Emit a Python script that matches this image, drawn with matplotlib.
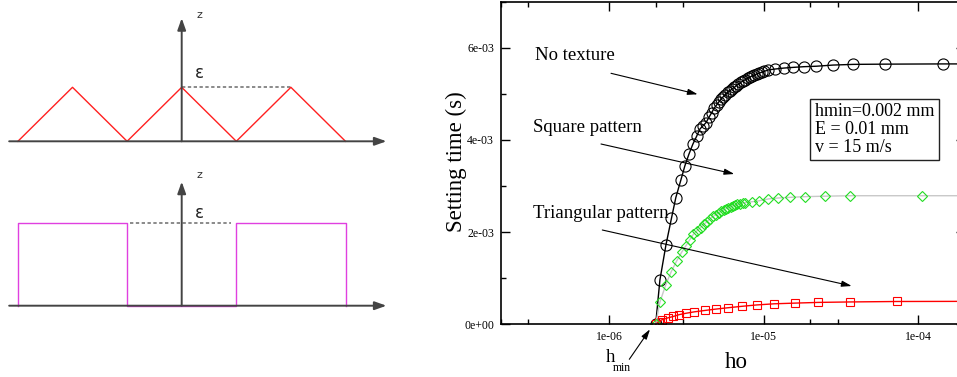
import numpy as np
import matplotlib
matplotlib.use('Agg')
from matplotlib import pyplot as plt
from matplotlib import ticker

W, H = 957, 377

# surface profiles, x in half periods, z in units of epsilon
tri_x = [-3, -2, -1, 0, 1, 2, 3]
tri_z = [0, 1, 0, 1, 0, 1, 0]
sq_x = [-3, -3, -1, -1, 1, 1, 3, 3]
sq_z = [0, 1, 1, 0, 0, 1, 1, 0]

# setting time vs ho  (ho in micrometres, time in ms)
h_none = [2.00, 2.13, 2.33, 2.53, 2.70, 2.91, 3.09, 3.28, 3.48, 3.68, 3.87, 4.05,
          4.22, 4.42, 4.60, 4.78, 4.96, 5.13, 5.31, 5.47, 5.65, 5.85, 6.05, 6.25,
          6.45, 6.65, 6.85, 7.10, 7.35, 7.60, 7.85, 8.10, 8.40, 8.70, 9.00, 9.35,
          9.70, 10.1, 10.7, 11.9, 13.5, 15.5, 18.2, 21.9, 28.0, 37.9, 60.4, 144, 500]
t_none = [0.00, 0.96, 1.72, 2.30, 2.75, 3.13, 3.44, 3.69, 3.91, 4.08, 4.24, 4.31,
          4.37, 4.49, 4.59, 4.69, 4.76, 4.83, 4.89, 4.94, 4.98, 5.03, 5.07, 5.11,
          5.14, 5.18, 5.21, 5.25, 5.28, 5.31, 5.34, 5.36, 5.39, 5.41, 5.43, 5.45,
          5.47, 5.49, 5.52, 5.54, 5.56, 5.575, 5.59, 5.60, 5.625, 5.64, 5.645, 5.65, 5.65]

h_sq = [2.0, 2.13, 2.32, 2.52, 2.73, 2.94, 3.13, 3.33, 3.5, 3.7, 3.9, 4.1, 4.3,
        4.5, 4.7, 4.9, 5.1, 5.3, 5.5, 5.7, 5.9, 6.1, 6.3, 6.5, 6.75, 7.0, 7.3,
        7.6, 8.4, 9.3, 10.7, 12.3, 14.7, 18.6, 25, 36, 106, 500]
t_sq = [0.0, 0.48, 0.85, 1.14, 1.37, 1.56, 1.70, 1.84, 1.95, 2.03, 2.10, 2.17, 2.23,
        2.29, 2.34, 2.38, 2.42, 2.45, 2.48, 2.51, 2.53, 2.55, 2.57, 2.59, 2.60, 2.61, 2.63,
        2.64, 2.66, 2.68, 2.72, 2.74, 2.755, 2.77, 2.78, 2.79, 2.79, 2.79]

h_tri = [2.0, 2.1, 2.2, 2.4, 2.6, 2.84, 3.15, 3.55, 4.15, 4.9, 5.9, 7.2, 9.0,
         11.7, 16.0, 22.5, 36, 73, 500]
t_tri = [0.0, 0.06, 0.10, 0.14, 0.17, 0.21, 0.24, 0.27, 0.30, 0.33, 0.36, 0.39, 0.42,
         0.445, 0.46, 0.475, 0.485, 0.495, 0.50]

info = "hmin=0.002 mm\nE = 0.01 mm\nv = 15 m/s"


def fpx(x, y):
    # image pixel -> figure fraction
    return (x / W, 1 - y / H)


fig = plt.figure(figsize=(W / 100, H / 100), dpi=100)

# ---- left: schematics
def schematic(ax, xs, zs, color, dash, zlab, elab, ztip):
    ax.set_xlim(-181.7 / 54.6, (400 - 181.7) / 54.6)
    ax.axis('off')
    arr = dict(arrowstyle='-|>,head_length=0.7,head_width=0.25', color='#444444',
               lw=1.4, shrinkA=0, shrinkB=0, mutation_scale=10)
    ax.annotate('', xy=(3.75, 0), xytext=(-3.16, 0), arrowprops=arr)
    ax.annotate('', xy=(0, ztip), xytext=(0, 0), arrowprops=arr)
    ax.plot(dash, [1, 1], ls=(0, (2, 1.5)), color='#777777', lw=1.2)
    ax.plot(xs, zs, color=color, lw=1.0)
    ax.text(0.317, zlab, 'z', fontsize=8, color='#333333', ha='center', va='center')
    ax.text(0.317, elab, 'ε', fontsize=12, color='#222222', ha='center', va='center')


ax1 = fig.add_axes([0, 1 - 160 / H, 400 / W, 160 / H])
ax1.set_ylim((141.3 - 160) / 54, 141.3 / 54)
schematic(ax1, tri_x, tri_z, '#ff2020', [0, 2], 2.339, 1.27, 2.28)

ax2 = fig.add_axes([0, 0, 400 / W, 217 / H])
ax2.set_ylim((305.7 - 377) / 82.4, (305.7 - 160) / 82.4)
schematic(ax2, sq_x, sq_z, '#e040e0', [-0.95, 0.9], 1.586, 1.121, 1.505)

# ---- right: setting time
plt.rcParams['font.family'] = ['Liberation Serif', 'DejaVu Serif']
ax = fig.add_axes([501 / W, 1 - 324.3 / H, 464 / W, 322.6 / H])
ax.plot(np.array(h_none) * 1e-6, np.array(t_none) * 1e-3, color='black', lw=1.0,
        marker='o', ms=8, mfc='none', mec='black', mew=0.8)
ax.plot(np.array(h_tri) * 1e-6, np.array(t_tri) * 1e-3, color='red', lw=1.0,
        marker='s', ms=6, mfc='none', mec='red', mew=0.8)
ax.plot(np.array(h_sq) * 1e-6, np.array(t_sq) * 1e-3, color='#c8c8c8', lw=1.0,
        marker='D', ms=5.5, mfc='none', mec='#22dd22', mew=0.8)

ax.set_xscale('log')
ax.set_xlim(2e-7, 2e-4)
ax.set_ylim(0, 7e-3)
ax.xaxis.set_major_locator(ticker.LogLocator(base=10, numticks=10))
ax.xaxis.set_minor_locator(ticker.LogLocator(base=10, subs=(2, 3), numticks=10))
ax.xaxis.set_minor_formatter(ticker.NullFormatter())
ax.xaxis.set_major_formatter(ticker.FuncFormatter(lambda v, p: '%.0e' % v))
ax.yaxis.set_major_locator(ticker.MultipleLocator(2e-3))
ax.yaxis.set_minor_locator(ticker.MultipleLocator(1e-3))
ax.yaxis.set_major_formatter(ticker.FuncFormatter(lambda v, p: '%.0e' % v))
ax.tick_params(which='both', direction='in', top=True, right=True, labelsize=8.5,
               width=1.0)
ax.tick_params(which='major', length=6.5, pad=5)
ax.tick_params(which='minor', length=3.5)
for s in ax.spines.values():
    s.set_linewidth(1.2)

fig.text(456 / W, 1 - 162 / H, 'Setting time (s)', rotation=90, fontsize=16.5,
         ha='center', va='center')
fig.text(736 / W, 1 - 363 / H, 'ho', fontsize=16.5, ha='center', va='center')

fig.text(*fpx(535, 55), 'No texture', fontsize=13.5, va='center')
fig.text(*fpx(533, 128), 'Square pattern', fontsize=13.5, va='center')
fig.text(*fpx(533, 213), 'Triangular pattern', fontsize=13.5, va='center')
fig.text(*fpx(610, 358), 'h', fontsize=13.5, ha='center', va='center')
fig.text(*fpx(622, 368), 'min', fontsize=8.5, ha='center', va='center')

fig.text(*fpx(815, 129.5), info, fontsize=13, va='center', linespacing=1.05,
         bbox=dict(boxstyle='square,pad=0.25', fc='white', ec='#222222', lw=1.0))

arrow = dict(arrowstyle='-|>,head_length=0.6,head_width=0.18', color='black',
             lw=0.8, shrinkA=0, shrinkB=0, mutation_scale=10)
for tail, head in [((611, 73.3), (697.7, 94.3)),
                   ((601, 144), (734.3, 174)),
                   ((602.3, 230), (851.7, 286)),
                   ((629.3, 359.3), (650, 329.3))]:
    fig.add_artist(matplotlib.patches.FancyArrowPatch(
        fpx(*tail), fpx(*head), transform=fig.transFigure, **arrow))

fig.savefig('out.png', dpi=100)
